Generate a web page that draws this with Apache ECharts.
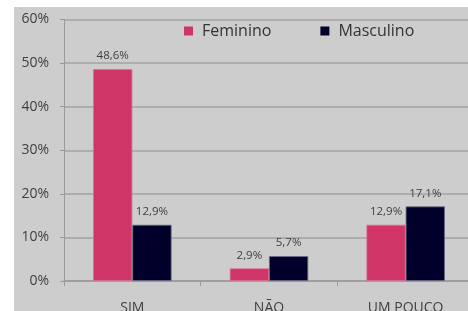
<!DOCTYPE html>
<html>
<head>
<meta charset="utf-8">
<script src="https://cdn.jsdelivr.net/npm/echarts@6/dist/echarts.min.js"></script>
<style>
html,body{margin:0;padding:0;background:#ffffff;width:468px;height:311px;overflow:hidden;}
#chart{position:absolute;left:14px;top:7px;width:454px;height:304px;background:#cdcdcd;}
</style>
</head>
<body>
<div id="chart"></div>
<script>
var categories = ['SIM', 'NÃO', 'UM POUCO'];
var seriesNames = ['Feminino', 'Masculino'];
var feminino = [48.6, 2.9, 12.9];
var masculino = [12.9, 5.7, 17.1];
var yTicks = [0, 10, 20, 30, 40, 50, 60];

var textColor = '#404040';
var fontFam = '"Open Sans", "DejaVu Sans", sans-serif';

function fmtLabel(p) {
  return p.value.toFixed(1).replace('.', ',') + '%';
}

var chart = echarts.init(document.getElementById('chart'), null, {renderer: 'canvas'});
chart.setOption({
  animation: false,
  backgroundColor: 'transparent',
  textStyle: {fontFamily: fontFam},
  legend: {
    data: seriesNames,
    left: 165,
    top: 11,
    itemWidth: 9,
    itemHeight: 9,
    itemGap: 49,
    icon: 'rect',
    itemStyle: {borderWidth: 0},
    textStyle: {fontSize: 16, color: '#333333', fontFamily: fontFam, padding: [0, 0, 0, 4]}
  },
  grid: {left: 50, top: 12.5, right: -6, bottom: 30, containLabel: false, outerBoundsMode: 'none'},
  xAxis: {
    type: 'category',
    data: categories,
    axisLine: {show: true, lineStyle: {color: '#9a9a9a', width: 1.5}},
    axisTick: {show: true, length: 5, alignWithLabel: false, lineStyle: {color: '#9a9a9a'}},
    axisLabel: {margin: 20, fontSize: 14, color: textColor, fontFamily: fontFam},
    splitLine: {show: false}
  },
  yAxis: {
    type: 'value',
    min: yTicks[0],
    max: yTicks[yTicks.length - 1],
    interval: 10,
    axisLine: {show: true, lineStyle: {color: '#9a9a9a', width: 1}},
    axisTick: {show: true, length: 4, lineStyle: {color: '#9a9a9a'}},
    axisLabel: {margin: 15, fontSize: 14, color: textColor, fontFamily: fontFam, formatter: '{value}%'},
    splitLine: {show: true, lineStyle: {color: '#a2a2a2', width: 1.5}}
  },
  series: [
    {
      name: seriesNames[0],
      type: 'bar',
      data: feminino,
      barGap: '0%',
      barCategoryGap: '42.6%',
      itemStyle: {color: '#cf3567', borderColor: '#dc6f93', borderWidth: 0.8},
      label: {show: true, position: 'top', distance: 7, fontSize: 11.5, color: textColor, fontFamily: fontFam, formatter: fmtLabel}
    },
    {
      name: seriesNames[1],
      type: 'bar',
      data: masculino,
      barGap: '0%',
      barCategoryGap: '42.6%',
      itemStyle: {color: '#00002b', borderColor: '#6a6a80', borderWidth: 0.8},
      label: {show: true, position: 'top', distance: 7, fontSize: 11.5, color: textColor, fontFamily: fontFam, formatter: fmtLabel}
    }
  ]
});
</script>
</body>
</html>
